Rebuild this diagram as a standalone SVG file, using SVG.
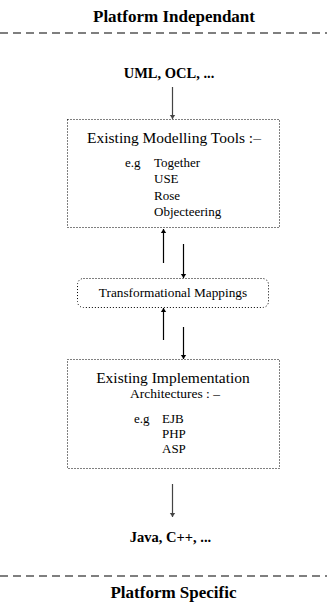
<svg xmlns="http://www.w3.org/2000/svg" width="327" height="603" viewBox="0 0 327 603">
<defs>
<style>
text{font-family:"Liberation Serif","Times New Roman",serif;fill:#000}
.h{font-weight:bold;font-size:17px;text-anchor:middle}
.b{font-weight:bold;font-size:14.5px;text-anchor:middle}
.big{font-size:15.5px;text-anchor:middle}
.m{font-size:13px}
.box{fill:none;stroke:#000;stroke-width:1;stroke-dasharray:1 2}
.dash{stroke:#555;stroke-width:1.3;stroke-dasharray:8 5}
.ar{stroke:#000;stroke-width:1.2;fill:none}
.ag{stroke:#444;stroke-width:1.2;fill:none}
</style>
<marker id="ah" viewBox="0 0 6 10" refX="6" refY="5" markerWidth="4" markerHeight="7" markerUnits="userSpaceOnUse" orient="auto"><path d="M0,1 L6,5 L0,9 z" fill="#000"/></marker>
<marker id="ahg" viewBox="0 0 6 10" refX="6" refY="5" markerWidth="4" markerHeight="7" markerUnits="userSpaceOnUse" orient="auto"><path d="M0,1 L6,5 L0,9 z" fill="#444"/></marker>
</defs>
<g id="title-top"><text class="h" x="174" y="22">Platform Independant</text></g>
<line class="dash" x1="0" y1="33" x2="327" y2="33"/>
<g id="uml"><text class="b" x="169" y="78">UML, OCL, ...</text></g>
<g id="tools">
<rect class="box" x="67.5" y="119.5" width="212" height="108"/>
<text class="big" x="174" y="143">Existing Modelling Tools :–</text>
<text class="m" x="125" y="167">e.g</text>
<text class="m" x="154" y="167">Together</text>
<text class="m" x="154" y="183">USE</text>
<text class="m" x="154" y="200">Rose</text>
<text class="m" x="154" y="216">Objecteering</text>
</g>
<g id="mappings">
<rect class="box" x="77.5" y="278.5" width="191" height="29" rx="6"/>
<text x="173" y="296.5" style="font-size:13.3px;text-anchor:middle">Transformational Mappings</text>
</g>
<g id="impl">
<rect class="box" x="67.5" y="359.5" width="212" height="109"/>
<text class="big" x="173" y="383">Existing Implementation</text>
<text x="175" y="398" style="font-size:13.5px;text-anchor:middle">Architectures : –</text>
<text class="m" x="134" y="423">e.g</text>
<text class="m" x="162" y="423">EJB</text>
<text class="m" x="162" y="437.5">PHP</text>
<text class="m" x="162" y="452.5">ASP</text>
</g>
<g id="java"><text class="b" x="170.5" y="542">Java, C++, ...</text></g>
<line class="dash" x1="0" y1="576" x2="327" y2="576"/>
<g id="title-bottom"><text class="h" x="173.5" y="598">Platform Specific</text></g>
<g id="connectors">
<line class="ag" x1="172.5" y1="87" x2="172.5" y2="119" marker-end="url(#ahg)"/>
<line class="ar" x1="163.5" y1="263" x2="163.5" y2="229" marker-end="url(#ah)"/>
<line class="ar" x1="183.5" y1="244" x2="183.5" y2="278" marker-end="url(#ah)"/>
<line class="ar" x1="163.5" y1="340" x2="163.5" y2="308" marker-end="url(#ah)"/>
<line class="ar" x1="183.5" y1="327" x2="183.5" y2="359" marker-end="url(#ah)"/>
<line class="ag" x1="172.5" y1="484" x2="172.5" y2="517" marker-end="url(#ahg)"/>
</g>
</svg>
